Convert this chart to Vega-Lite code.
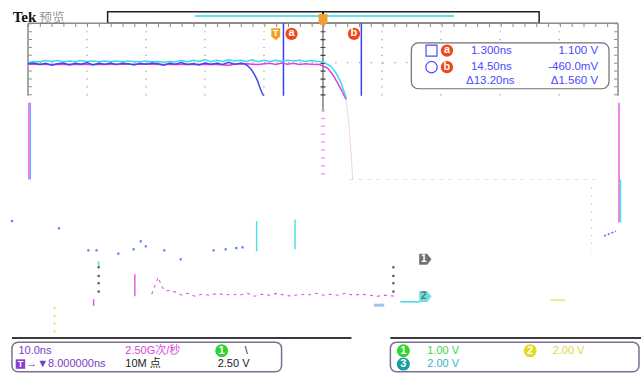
{
"$schema": "https://vega.github.io/schema/vega-lite/v6.json",
"width": 642, "height": 373,
"autosize": {"type": "fit", "contains": "padding"},
"padding": 0,
"background": "white",
"config": {"view": {"stroke": null}},
"encoding": {
  "x": {"field": "t", "type": "quantitative", "scale": {"domain": [-46.738, 61.892], "nice": false, "zero": false}, "axis": null},
  "y": {"field": "v", "type": "quantitative", "scale": {"domain": [-2.8644, 6.5906], "nice": false, "zero": false}, "axis": null}
},
"datasets": {
  "bar": [{"t": -28.5, "t2": 44.63, "v": 6.294, "v2": 6.0}],
  "barLine": [{"t": -13.66, "t2": 30.2, "v": 6.185}],
  "frame": [{"t": -42, "t2": 58, "v": 6, "v2": 6}, {"t": -42, "t2": -42, "v": 6, "v2": 4.157}, {"t": 58, "t2": 58, "v": 6, "v2": 4.157}],
  "topTicks": [{"t": -42, "t2": 58, "v": 5.94}],
  "sideTicks": [{"t": -41.6, "v": 6, "v2": 4.157}, {"t": 57.6, "v": 6, "v2": 4.157}],
  "gridV": [{"t": -32, "v": 6, "v2": 4.157}, {"t": -22, "v": 6, "v2": 4.157}, {"t": -12, "v": 6, "v2": 4.157}, {"t": -2, "v": 6, "v2": 4.157}, {"t": 18, "v": 6, "v2": 4.157}, {"t": 28, "v": 6, "v2": 4.157}, {"t": 38, "v": 6, "v2": 4.157}, {"t": 48, "v": 6, "v2": 4.157}],
  "gridH": [{"t": -42, "t2": 58, "v": 5}],
  "faintH": [{"t": 12.48, "t2": 54.79, "v": 2.028}],
  "center": [{"t": 8, "v": 6, "v2": 3.75}],
  "centerTicks": [{"t": 8, "v": 6, "v2": 4.16}],
  "centerPink": [{"t": 8, "v": 3.8, "v2": 2.15}],
  "cursors": [{"t": 1.3, "v": 6, "v2": 4.157}, {"t": 14.5, "v": 6, "v2": 4.157}],
  "wMag": [{"t": -42, "v": 4.96}, {"t": -38, "v": 4.95}, {"t": -34, "v": 4.96}, {"t": -30, "v": 4.95}, {"t": -26, "v": 4.96}, {"t": -22, "v": 4.96}, {"t": -18, "v": 4.95}, {"t": -14, "v": 4.96}, {"t": -10, "v": 4.95}, {"t": -8, "v": 4.93}, {"t": -7, "v": 4.96}, {"t": -5, "v": 4.97}, {"t": -3, "v": 4.95}, {"t": -1, "v": 4.98}, {"t": 0, "v": 4.95}, {"t": 1, "v": 4.99}, {"t": 2, "v": 4.96}, {"t": 3, "v": 4.98}, {"t": 4, "v": 4.95}, {"t": 5, "v": 4.97}, {"t": 6, "v": 4.96}, {"t": 7.41, "v": 4.95}, {"t": 8.81, "v": 4.86}, {"t": 9.66, "v": 4.69}, {"t": 10.5, "v": 4.48}, {"t": 11.25, "v": 4.27}, {"t": 11.52, "v": 4.18}, {"t": 11.93, "v": 4.06}],
  "wTail": [{"t": 11.93, "v": 4.06}, {"t": 12.48, "v": 3.3}, {"t": 13.04, "v": 2.03}],
  "wCyan": [{"t": -42, "v": 5.0}, {"t": -41, "v": 5.03}, {"t": -40, "v": 5.02}, {"t": -39, "v": 5.05}, {"t": -38, "v": 5.03}, {"t": -37, "v": 5.05}, {"t": -36, "v": 5.02}, {"t": -35, "v": 5.04}, {"t": -34, "v": 5.03}, {"t": -33, "v": 5.05}, {"t": -32, "v": 5.03}, {"t": -31, "v": 5.04}, {"t": -30, "v": 5.02}, {"t": -29, "v": 5.04}, {"t": -28, "v": 5.03}, {"t": -27, "v": 5.04}, {"t": -26, "v": 5.02}, {"t": -25, "v": 5.04}, {"t": -24, "v": 5.03}, {"t": -23, "v": 5.02}, {"t": -22, "v": 5.04}, {"t": -21, "v": 5.02}, {"t": -20, "v": 5.03}, {"t": -19, "v": 5.01}, {"t": -18, "v": 5.03}, {"t": -17, "v": 5.02}, {"t": -16, "v": 5.05}, {"t": -15, "v": 5.02}, {"t": -14, "v": 5.06}, {"t": -13, "v": 5.03}, {"t": -12, "v": 5.07}, {"t": -11, "v": 5.02}, {"t": -10, "v": 5.06}, {"t": -9, "v": 5.03}, {"t": -8, "v": 5.07}, {"t": -7, "v": 5.04}, {"t": -6, "v": 5.06}, {"t": -5, "v": 5.03}, {"t": -4, "v": 5.07}, {"t": -3, "v": 5.02}, {"t": -2, "v": 5.06}, {"t": -1, "v": 5.03}, {"t": 0, "v": 5.06}, {"t": 1, "v": 5.03}, {"t": 2, "v": 5.06}, {"t": 3, "v": 5.04}, {"t": 4, "v": 5.06}, {"t": 5, "v": 5.03}, {"t": 6, "v": 5.05}, {"t": 7, "v": 5.03}, {"t": 8, "v": 5.02}, {"t": 9.39, "v": 4.9}, {"t": 10.23, "v": 4.73}, {"t": 11.08, "v": 4.48}, {"t": 11.64, "v": 4.23}, {"t": 11.98, "v": 4.08}],
  "wBlue": [{"t": -42, "v": 4.97}, {"t": -41, "v": 4.99}, {"t": -40, "v": 4.95}, {"t": -39, "v": 4.98}, {"t": -38, "v": 4.93}, {"t": -37, "v": 4.97}, {"t": -36, "v": 4.99}, {"t": -35, "v": 4.94}, {"t": -34, "v": 4.98}, {"t": -33, "v": 4.96}, {"t": -32, "v": 5.0}, {"t": -31, "v": 4.94}, {"t": -30, "v": 4.98}, {"t": -29, "v": 4.96}, {"t": -28, "v": 4.99}, {"t": -27, "v": 4.95}, {"t": -26, "v": 4.98}, {"t": -25, "v": 4.97}, {"t": -24, "v": 4.94}, {"t": -23, "v": 4.98}, {"t": -22, "v": 4.96}, {"t": -21, "v": 4.99}, {"t": -20, "v": 4.97}, {"t": -19, "v": 4.93}, {"t": -18, "v": 4.98}, {"t": -17, "v": 4.96}, {"t": -16, "v": 5.0}, {"t": -15, "v": 4.95}, {"t": -14, "v": 4.97}, {"t": -13, "v": 4.94}, {"t": -12, "v": 4.99}, {"t": -11, "v": 4.96}, {"t": -10, "v": 4.98}, {"t": -9, "v": 4.95}, {"t": -8, "v": 5.01}, {"t": -7, "v": 4.96}, {"t": -6, "v": 4.98}, {"t": -5.28, "v": 4.97}, {"t": -4.78, "v": 4.918}, {"t": -4.1, "v": 4.816}, {"t": -3.59, "v": 4.689}, {"t": -3.08, "v": 4.537}, {"t": -2.74, "v": 4.385}, {"t": -2.41, "v": 4.259}, {"t": -2.07, "v": 4.157}],
  "readBox": [{"t": 22.97, "t2": 56.47, "v": 5.501, "v2": 4.335}],
  "sqIcon": [{"t": 26.39, "v": 5.305}],
  "ciIcon": [{"t": 26.39, "v": 4.884}],
  "abRead": [{"t": 29.01, "v": 5.305, "label": "a"}, {"t": 29.01, "v": 4.884, "label": "b"}],
  "abTop": [{"t": 2.67, "v": 5.729, "label": "a"}, {"t": 13.25, "v": 5.729, "label": "b"}],
  "readLeft": [{"t": 33.07, "v": 5.305, "label": "1.300ns"}, {"t": 33.07, "v": 4.884, "label": "14.50ns"}, {"t": 32.23, "v": 4.537, "label": "Δ13.20ns"}],
  "readRight": [{"t": 54.62, "v": 5.305, "label": "1.100 V"}, {"t": 54.62, "v": 4.884, "label": "-460.0mV"}, {"t": 54.62, "v": 4.537, "label": "Δ1.560 V"}],
  "tMark": [{"t": 0, "v": 5.729, "label": "T"}],
  "trigBar": [{"t": 8, "v": 6.294, "v2": 6.0}],
  "trigPtr": [{"t": 8, "v": 6.084}],
  "hdrTek": [{"t": -44.59, "v": 6.033, "label": "Tek"}],
  "hdrCn": [{"t": -40.14, "v": 6.02, "label": "预览"}],
  "magSegs": [{"t": -41.83, "v": 3.98, "v2": 2.028}, {"t": 58.17, "v": 3.98, "v2": 0.938}, {"t": -23.89, "v": -0.38, "v2": -0.938}, {"t": -30.87, "v": -1.014, "v2": -1.184}],
  "bluSegs": [{"t": -41.58, "v": 3.98, "v2": 2.028}],
  "cyanSegs": [{"t": -3.25, "v": 0.971, "v2": 0.203}, {"t": 3.26, "v": 1.014, "v2": 0.253}, {"t": 58.42, "v": 2.028, "v2": 0.938}, {"t": -30.02, "v": -0.051, "v2": -0.177}],
  "cyanDotted": [{"t": 53.53, "v": 1.825, "v2": 0.203}],
  "blueDots": [{"t": -44.71, "v": 0.971}, {"t": -36.75, "v": 0.786}, {"t": -31.76, "v": 0.228}, {"t": -30.38, "v": 0.228}, {"t": -26.69, "v": 0.144}, {"t": -24.11, "v": 0.253}, {"t": -22.88, "v": 0.456}, {"t": -22.03, "v": 0.33}, {"t": -18.89, "v": 0.228}, {"t": -16.11, "v": 0.0}, {"t": -10.53, "v": 0.228}, {"t": -8.5, "v": 0.253}, {"t": -6.7, "v": 0.286}, {"t": -5.65, "v": 0.304}],
  "blueDash": [{"t": 55.63, "t2": 57.66, "v": 0.591, "v2": 0.717}],
  "magNoise": [{"t": -21.02, "v": -0.887}, {"t": -19.94, "v": -0.456}, {"t": -19.22, "v": -0.717}, {"t": -18.65, "v": -0.811}, {"t": -17.97, "v": -0.786}, {"t": -16.79, "v": -0.844}, {"t": -15.94, "v": -0.913}, {"t": -14.93, "v": -0.862}, {"t": -13.74, "v": -0.938}, {"t": -12.56, "v": -0.887}, {"t": -11.2, "v": -0.913}, {"t": -9.85, "v": -0.862}, {"t": -8.67, "v": -0.913}, {"t": -7.48, "v": -0.887}, {"t": -6.13, "v": -0.913}, {"t": -4.78, "v": -0.862}, {"t": -3.59, "v": -0.938}, {"t": -2.41, "v": -0.887}, {"t": -1.05, "v": -0.913}, {"t": 0.3, "v": -0.862}, {"t": 1.49, "v": -0.913}, {"t": 2.67, "v": -0.938}, {"t": 4.02, "v": -0.887}, {"t": 5.38, "v": -0.913}, {"t": 6.73, "v": -0.862}, {"t": 8.09, "v": -0.913}, {"t": 9.1, "v": -0.887}, {"t": 10.45, "v": -0.913}, {"t": 11.81, "v": -0.862}, {"t": 13.16, "v": -0.913}, {"t": 14.51, "v": -0.887}, {"t": 15.87, "v": -0.913}, {"t": 17.22, "v": -0.938}, {"t": 18.58, "v": -0.913}, {"t": 20.1, "v": -0.938}],
  "grayDots": [{"t": -30.02, "v": -0.203}, {"t": -30.02, "v": -0.423}, {"t": -30.02, "v": -0.608}, {"t": -30.02, "v": -0.819}, {"t": 19.93, "v": -0.203}, {"t": 19.93, "v": -0.423}, {"t": 19.93, "v": -0.608}, {"t": 19.93, "v": -0.819}],
  "yellowDots": [{"t": -37.52, "v": -1.242}, {"t": -37.52, "v": -1.437}, {"t": -37.52, "v": -1.63}, {"t": -37.52, "v": -1.833}],
  "cyanLine2": [{"t": 21.11, "t2": 24.33, "v": -1.082}],
  "lbBar": [{"t": 16.63, "t2": 18.37, "v": -1.166}],
  "yLine": [{"t": 46.56, "t2": 49.0, "v": -1.039}],
  "gnd1": [{"t": 25.34, "v": 0.0, "label": "1"}],
  "gnd2": [{"t": 25.34, "v": -0.945, "label": "2"}],
  "bottomLine": [{"t": -44.71, "t2": 12.82, "v": -2.0}, {"t": 19.42, "t2": 61.89, "v": -2.0}],
  "statusBox": [{"t": -44.71, "t2": 0.98, "v": -2.11, "v2": -2.857}, {"t": 19.42, "t2": 61.55, "v": -2.11, "v2": -2.857}],
  "badges": [{"t": -9.17, "v": -2.324, "ch": "1"}, {"t": 21.62, "v": -2.324, "ch": "1"}, {"t": 43.11, "v": -2.324, "ch": "2"}, {"t": 21.62, "v": -2.662, "ch": "3"}],
  "txtPurple": [{"t": -43.61, "v": -2.324, "label": "10.0ns"}, {"t": -42.3, "v": -2.662, "label": "→▼8.000000ns"}],
  "tIcon": [{"t": -43.27, "v": -2.662, "label": "T"}],
  "txtMagenta": [{"t": -25.5, "v": -2.324, "label": "2.50G次/秒"}],
  "txtBlack": [{"t": -25.5, "v": -2.662, "label": "10M 点"}, {"t": -9.85, "v": -2.662, "label": "2.50 V"}, {"t": -5.28, "v": -2.324, "label": "\\"}],
  "txtGreen": [{"t": 25.68, "v": -2.324, "label": "1.00 V"}],
  "txtYellow": [{"t": 46.92, "v": -2.324, "label": "2.00 V"}],
  "txtTeal": [{"t": 25.68, "v": -2.662, "label": "2.00 V"}]
},
"layer": [
  {"data": {"name": "bar"}, "mark": {"type": "rect", "fill": "white", "stroke": "#202020", "strokeWidth": 1.5}, "encoding": {"x2": {"field": "t2"}, "y2": {"field": "v2"}}},
  {"data": {"name": "barLine"}, "mark": {"type": "rule", "color": "#5ce0ec", "strokeWidth": 2}, "encoding": {"x2": {"field": "t2"}}},
  {"data": {"name": "frame"}, "mark": {"type": "rule", "color": "#8a8a8a", "strokeWidth": 1.5}, "encoding": {"x2": {"field": "t2"}, "y2": {"field": "v2"}}},
  {"data": {"name": "topTicks"}, "mark": {"type": "rule", "color": "#8a8a8a", "strokeWidth": 3, "strokeDash": [1, 10.82]}, "encoding": {"x2": {"field": "t2"}}},
  {"data": {"name": "sideTicks"}, "mark": {"type": "rule", "color": "#8a8a8a", "strokeWidth": 3, "strokeDash": [1, 6.89]}, "encoding": {"y2": {"field": "v2"}}},
  {"data": {"name": "gridV"}, "mark": {"type": "rule", "color": "#9a9a9a", "strokeWidth": 1.2, "strokeDash": [1.2, 6.69]}, "encoding": {"y2": {"field": "v2"}}},
  {"data": {"name": "gridH"}, "mark": {"type": "rule", "color": "#9a9a9a", "strokeWidth": 1.2, "strokeDash": [1.2, 10.62]}, "encoding": {"x2": {"field": "t2"}}},
  {"data": {"name": "faintH"}, "mark": {"type": "rule", "color": "#e2e2e2", "strokeWidth": 1, "strokeDash": [4, 5]}, "encoding": {"x2": {"field": "t2"}}},
  {"data": {"name": "center"}, "mark": {"type": "rule", "color": "#404040", "strokeWidth": 1}, "encoding": {"y2": {"field": "v2"}}},
  {"data": {"name": "centerTicks"}, "mark": {"type": "rule", "color": "#404040", "strokeWidth": 5, "strokeDash": [1.2, 6.69]}, "encoding": {"y2": {"field": "v2"}}},
  {"data": {"name": "centerPink"}, "mark": {"type": "rule", "color": "#e8a8e8", "strokeWidth": 4, "strokeDash": [1.5, 6.39]}, "encoding": {"y2": {"field": "v2"}}},
  {"data": {"name": "cursors"}, "mark": {"type": "rule", "color": "#3c3cff", "strokeWidth": 1.5}, "encoding": {"y2": {"field": "v2"}}},
  {"data": {"name": "wMag"}, "mark": {"type": "line", "color": "#e040e0", "strokeWidth": 1.5}, "encoding": {}},
  {"data": {"name": "wTail"}, "mark": {"type": "line", "color": "#f4cff4", "strokeWidth": 1}, "encoding": {}},
  {"data": {"name": "wCyan"}, "mark": {"type": "line", "color": "#3adbe6", "strokeWidth": 1.5}, "encoding": {}},
  {"data": {"name": "wBlue"}, "mark": {"type": "line", "color": "#4646ee", "strokeWidth": 1.5}, "encoding": {}},
  {"data": {"name": "readBox"}, "mark": {"type": "rect", "fill": "white", "stroke": "#707070", "strokeWidth": 1.2, "cornerRadius": 7}, "encoding": {"x2": {"field": "t2"}, "y2": {"field": "v2"}}},
  {"data": {"name": "sqIcon"}, "mark": {"type": "point", "shape": "square", "filled": false, "color": "#4a4aff", "size": 120, "strokeWidth": 1.2, "opacity": 1}, "encoding": {}},
  {"data": {"name": "ciIcon"}, "mark": {"type": "point", "shape": "circle", "filled": false, "color": "#4a4aff", "size": 130, "strokeWidth": 1.2, "opacity": 1}, "encoding": {}},
  {"data": {"name": "abRead"}, "mark": {"type": "point", "shape": "circle", "filled": true, "color": "#f04818", "size": 150, "opacity": 1}, "encoding": {}},
  {"data": {"name": "abRead"}, "mark": {"type": "text", "color": "white", "font": "Liberation Sans", "fontSize": 11, "fontWeight": "bold", "baseline": "middle", "align": "center", "dy": -0.5}, "encoding": {"text": {"field": "label"}}},
  {"data": {"name": "abTop"}, "mark": {"type": "point", "shape": "circle", "filled": true, "color": "#f04818", "size": 150, "opacity": 1}, "encoding": {}},
  {"data": {"name": "abTop"}, "mark": {"type": "text", "color": "white", "font": "Liberation Sans", "fontSize": 11, "fontWeight": "bold", "baseline": "middle", "align": "center", "dy": -0.5}, "encoding": {"text": {"field": "label"}}},
  {"data": {"name": "readLeft"}, "mark": {"type": "text", "color": "#4a4aff", "font": "Liberation Sans", "fontSize": 11.5, "baseline": "middle", "align": "left"}, "encoding": {"text": {"field": "label"}}},
  {"data": {"name": "readRight"}, "mark": {"type": "text", "color": "#4a4aff", "font": "Liberation Sans", "fontSize": 11.5, "baseline": "middle", "align": "right"}, "encoding": {"text": {"field": "label"}}},
  {"data": {"name": "tMark"}, "mark": {"type": "point", "shape": "M -0.85 -1.1 L 0.85 -1.1 L 0.85 0.5 L 0 1.2 L -0.85 0.5 Z", "filled": true, "color": "#f5a020", "size": 110, "opacity": 1}, "encoding": {}},
  {"data": {"name": "tMark"}, "mark": {"type": "text", "color": "white", "font": "Liberation Sans", "fontSize": 9, "fontWeight": "bold", "baseline": "middle", "align": "center", "dy": -1}, "encoding": {"text": {"field": "label"}}},
  {"data": {"name": "trigBar"}, "mark": {"type": "rule", "color": "#202020", "strokeWidth": 2}, "encoding": {"y2": {"field": "v2"}}},
  {"data": {"name": "trigPtr"}, "mark": {"type": "point", "shape": "M -1 -1.3 L 1 -1.3 L 1 0.6 L 0 1.4 L -1 0.6 Z", "filled": true, "color": "#f0a030", "size": 80, "opacity": 1}, "encoding": {}},
  {"data": {"name": "hdrTek"}, "mark": {"type": "text", "color": "#111111", "font": "Liberation Serif", "fontSize": 15, "fontWeight": "bold", "baseline": "alphabetic", "align": "left"}, "encoding": {"text": {"field": "label"}}},
  {"data": {"name": "hdrCn"}, "mark": {"type": "text", "color": "#666666", "font": "Noto Sans CJK SC", "fontSize": 13, "fontWeight": 300, "baseline": "alphabetic", "align": "left"}, "encoding": {"text": {"field": "label"}}},
  {"data": {"name": "magSegs"}, "mark": {"type": "rule", "color": "#e060e0", "strokeWidth": 1.5}, "encoding": {"y2": {"field": "v2"}}},
  {"data": {"name": "bluSegs"}, "mark": {"type": "rule", "color": "#70a8ff", "strokeWidth": 1.2}, "encoding": {"y2": {"field": "v2"}}},
  {"data": {"name": "cyanSegs"}, "mark": {"type": "rule", "color": "#50e0ea", "strokeWidth": 1.5}, "encoding": {"y2": {"field": "v2"}}},
  {"data": {"name": "cyanDotted"}, "mark": {"type": "rule", "color": "#50e0ea", "strokeWidth": 1.2, "strokeDash": [1.2, 6.7]}, "encoding": {"y2": {"field": "v2"}}},
  {"data": {"name": "blueDots"}, "mark": {"type": "square", "color": "#4a70ff", "size": 5, "opacity": 0.9}, "encoding": {}},
  {"data": {"name": "blueDash"}, "mark": {"type": "rule", "color": "#4a70ff", "strokeWidth": 1.5, "strokeDash": [2, 2]}, "encoding": {"x2": {"field": "t2"}, "y2": {"field": "v2"}}},
  {"data": {"name": "magNoise"}, "mark": {"type": "line", "color": "#e050e0", "strokeWidth": 1.1, "strokeDash": [3, 4]}, "encoding": {}},
  {"data": {"name": "grayDots"}, "mark": {"type": "square", "color": "#555555", "size": 5, "opacity": 1}, "encoding": {}},
  {"data": {"name": "yellowDots"}, "mark": {"type": "square", "color": "#e6de60", "size": 4, "opacity": 1}, "encoding": {}},
  {"data": {"name": "cyanLine2"}, "mark": {"type": "rule", "color": "#40d8e0", "strokeWidth": 1.5}, "encoding": {"x2": {"field": "t2"}}},
  {"data": {"name": "lbBar"}, "mark": {"type": "rule", "color": "#a0c4f0", "strokeWidth": 3}, "encoding": {"x2": {"field": "t2"}}},
  {"data": {"name": "yLine"}, "mark": {"type": "rule", "color": "#f0e890", "strokeWidth": 2}, "encoding": {"x2": {"field": "t2"}}},
  {"data": {"name": "gnd1"}, "mark": {"type": "point", "shape": "M -1 -0.9 L 0.3 -0.9 L 1 0 L 0.3 0.9 L -1 0.9 Z", "filled": true, "color": "#707070", "size": 150, "opacity": 1}, "encoding": {}},
  {"data": {"name": "gnd1"}, "mark": {"type": "text", "color": "white", "font": "Liberation Sans", "fontSize": 10, "fontWeight": "bold", "baseline": "middle", "align": "center", "dx": -1.5}, "encoding": {"text": {"field": "label"}}},
  {"data": {"name": "gnd2"}, "mark": {"type": "point", "shape": "M -1 -0.9 L 0.3 -0.9 L 1 0 L 0.3 0.9 L -1 0.9 Z", "filled": true, "color": "#6fdde6", "size": 150, "opacity": 1}, "encoding": {}},
  {"data": {"name": "gnd2"}, "mark": {"type": "text", "color": "#707070", "font": "Liberation Sans", "fontSize": 10, "fontWeight": "bold", "baseline": "middle", "align": "center", "dx": -1.5}, "encoding": {"text": {"field": "label"}}},
  {"data": {"name": "bottomLine"}, "mark": {"type": "rule", "color": "#3a3a3a", "strokeWidth": 2}, "encoding": {"x2": {"field": "t2"}}},
  {"data": {"name": "statusBox"}, "mark": {"type": "rect", "fill": "white", "stroke": "#7a7090", "strokeWidth": 1.5, "cornerRadius": 6}, "encoding": {"x2": {"field": "t2"}, "y2": {"field": "v2"}}},
  {"data": {"name": "badges"}, "mark": {"type": "point", "shape": "circle", "filled": true, "size": 170, "opacity": 1}, "encoding": {"color": {"field": "ch", "type": "nominal", "scale": {"domain": ["1", "2", "3"], "range": ["#2fd42f", "#e2d81e", "#1c9ea0"]}, "legend": null}}},
  {"data": {"name": "badges"}, "mark": {"type": "text", "color": "white", "font": "Liberation Sans", "fontSize": 11, "fontWeight": "bold", "baseline": "middle", "align": "center"}, "encoding": {"text": {"field": "ch"}}},
  {"data": {"name": "tIcon"}, "mark": {"type": "square", "color": "#9040d0", "size": 90, "opacity": 1}, "encoding": {}},
  {"data": {"name": "tIcon"}, "mark": {"type": "text", "color": "white", "font": "Liberation Sans", "fontSize": 9, "fontWeight": "bold", "baseline": "middle", "align": "center"}, "encoding": {"text": {"field": "label"}}},
  {"data": {"name": "txtPurple"}, "mark": {"type": "text", "color": "#7a3cc8", "font": "Liberation Sans, Noto Sans CJK SC", "fontSize": 11, "baseline": "middle", "align": "left"}, "encoding": {"text": {"field": "label"}}},
  {"data": {"name": "txtMagenta"}, "mark": {"type": "text", "color": "#e040e0", "font": "Liberation Sans, Noto Sans CJK SC", "fontSize": 11, "baseline": "middle", "align": "left"}, "encoding": {"text": {"field": "label"}}},
  {"data": {"name": "txtBlack"}, "mark": {"type": "text", "color": "#222222", "font": "Liberation Sans, Noto Sans CJK SC", "fontSize": 11, "baseline": "middle", "align": "left"}, "encoding": {"text": {"field": "label"}}},
  {"data": {"name": "txtGreen"}, "mark": {"type": "text", "color": "#44d044", "font": "Liberation Sans", "fontSize": 11, "baseline": "middle", "align": "left"}, "encoding": {"text": {"field": "label"}}},
  {"data": {"name": "txtYellow"}, "mark": {"type": "text", "color": "#e0d83a", "font": "Liberation Sans", "fontSize": 11, "baseline": "middle", "align": "left"}, "encoding": {"text": {"field": "label"}}},
  {"data": {"name": "txtTeal"}, "mark": {"type": "text", "color": "#30b8c0", "font": "Liberation Sans", "fontSize": 11, "baseline": "middle", "align": "left"}, "encoding": {"text": {"field": "label"}}}
]
}
